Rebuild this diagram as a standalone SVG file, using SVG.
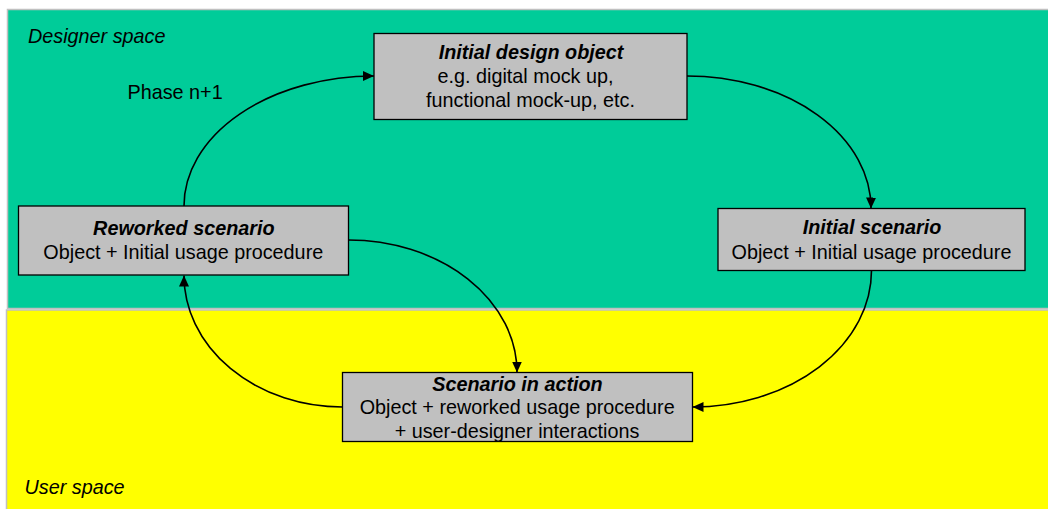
<svg xmlns="http://www.w3.org/2000/svg" width="1048" height="509" viewBox="0 0 1048 509">
<style>
.t{font-family:"Liberation Sans",Arial,sans-serif;font-size:19.8px;fill:#000;text-anchor:middle}
.h{font-weight:bold;font-style:italic}
.lbl{font-family:"Liberation Sans",Arial,sans-serif;font-size:19.8px;fill:#000}
.box{fill:#C0C0C0;stroke:#000;stroke-width:1.3}
.c{fill:none;stroke:#000;stroke-width:1.6;marker-end:url(#ah)}
</style>
<defs>
<marker id="ah" markerUnits="userSpaceOnUse" markerWidth="11" markerHeight="10" viewBox="0 0 11 10" refX="11" refY="5" orient="auto">
<path d="M0,0 L11,5 L0,10 z" fill="#000"/>
</marker>
</defs>
<rect width="1048" height="509" fill="#fff"/>
<g id="regions">
<rect x="7.5" y="9.5" width="1045" height="299" fill="#00CC99" stroke="#C0C0C0" stroke-width="1.5"/>
<rect x="6.5" y="310" width="1045" height="205" fill="#FFFF00" stroke="#C0C0C0" stroke-width="1.5"/>
<text class="lbl" x="28" y="43" font-style="italic">Designer space</text>
<text class="lbl" x="24.5" y="494" font-style="italic">User space</text>
<text class="lbl" x="127.5" y="99">Phase n+1</text>
</g>
<g id="connectors">
<path class="c" d="M687,76 A184,132 0 0 1 871,208.5"/>
<path class="c" d="M871.5,270.5 A179,136.5 0 0 1 692.5,407"/>
<path class="c" d="M342.5,407 A158.5,131.5 0 0 1 184,275.5"/>
<path class="c" d="M184,206 A190,130 0 0 1 374,76"/>
<path class="c" d="M348.5,240 A168.5,132.5 0 0 1 517,372.5"/>
</g>
<g id="initial-design-object">
<rect class="box" x="374" y="33.5" width="313" height="86"/>
<text class="t h" x="531" y="59.3">Initial design object</text>
<text class="t" x="525.5" y="83.3">e.g. digital mock up,</text>
<text class="t" x="530.5" y="107.3">functional mock-up, etc.</text>
</g>
<g id="initial-scenario">
<rect class="box" x="718" y="208.5" width="307" height="62"/>
<text class="t h" x="872" y="234">Initial scenario</text>
<text class="t" x="871.5" y="258.5">Object + Initial usage procedure</text>
</g>
<g id="scenario-in-action">
<rect class="box" x="342.5" y="372.5" width="350" height="69"/>
<text class="t h" x="517.5" y="390.5">Scenario in action</text>
<text class="t" x="517.2" y="414.3">Object + reworked usage procedure</text>
<text class="t" x="517" y="438">+ user-designer interactions</text>
</g>
<g id="reworked-scenario">
<rect class="box" x="18.5" y="206" width="330" height="69"/>
<text class="t h" x="183.8" y="235">Reworked scenario</text>
<text class="t" x="183.3" y="259.3">Object + Initial usage procedure</text>
</g>
</svg>
